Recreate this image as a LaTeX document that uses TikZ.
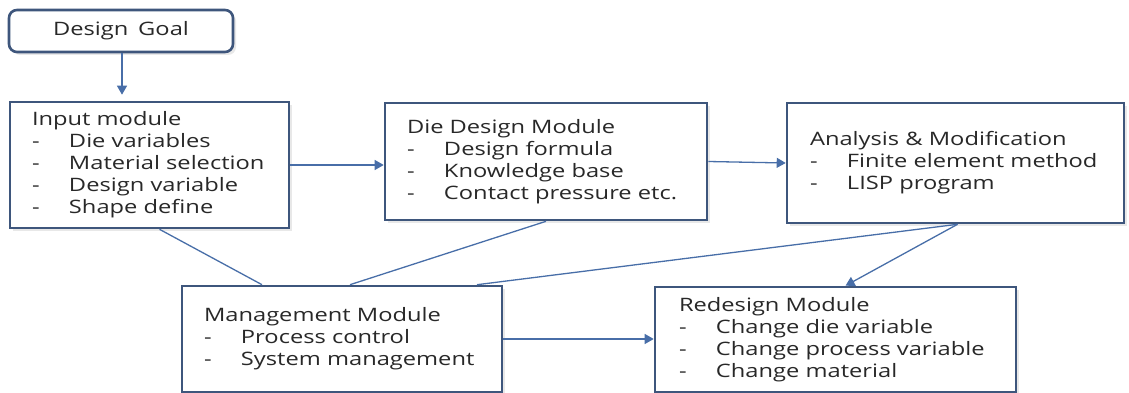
\documentclass[tikz,border=0pt]{standalone}
\usepackage{fontspec}
\setmainfont{Open Sans}[FakeStretch=1.28,WordSpace=1.6]
\usetikzlibrary{arrows.meta,shadows,calc}
\definecolor{boxline}{RGB}{62,86,124}
\definecolor{linkblue}{RGB}{72,110,168}
\definecolor{ink}{RGB}{40,40,40}
\newcommand{\itm}[1]{\makebox[37pt][l]{-}#1}

\begin{document}
\begin{tikzpicture}[x=1pt,y=-1pt,
  module/.style={draw=boxline, line width=2.6pt, fill=white, align=left,
    inner xsep=22pt, inner ysep=0pt, text=ink,
    font=\fontsize{18.5}{22}\selectfont,
    drop shadow={opacity=0.18, shadow xshift=3pt, shadow yshift=-3pt}},
  goalbox/.style={module, rounded corners=8pt, align=center},
  link/.style={draw=linkblue, line width=1.3pt},
  flow/.style={link, -{Triangle[width=10pt,length=9pt]}}]

\useasboundingbox (0,0) rectangle (1129,393);

\node[goalbox, minimum width=224pt, minimum height=42pt] (goal) at (121,31) {Design Goal};

\node[module, minimum width=279pt, minimum height=126pt, text width=235pt] (input) at (149.5,165)
  {Input module\\ \itm{Die variables}\\ \itm{Material selection}\\ \itm{Design variable}\\ \itm{Shape define}};

\node[module, minimum width=322pt, minimum height=117pt, text width=278pt] (die) at (546,161.5)
  {Die Design Module\\ \itm{Design formula}\\ \itm{Knowledge base}\\ \itm{Contact pressure etc.}};

\node[module, minimum width=337pt, minimum height=120pt, text width=291pt] (anal) at (955.5,163)
  {Analysis \& Modification\\ \itm{Finite element method}\\ \itm{LISP program}};

\node[module, minimum width=318pt, minimum height=106pt, text width=276pt] (mgmt) at (342,339)
  {Management Module\\ \itm{Process control}\\ \itm{System management}};

\node[module, minimum width=361pt, minimum height=105pt, text width=313pt] (redes) at (835.5,339.5)
  {Redesign Module\\ \itm{Change die variable}\\ \itm{Change process variable}\\ \itm{Change material}};

% flow between modules
\draw[flow, shorten >=6pt] ([xshift=1pt]goal.south) -- ([xshift=1pt]goal.south |- input.north);
\draw[flow] (input.east) -- (input.east -| die.west);
\draw[flow] (die.east) -- (anal.west);
\draw[flow] (mgmt.east) -- (mgmt.east -| redes.west);
\draw[flow] ([xshift=2pt]anal.south) -- ([xshift=10pt]redes.north);

% links into the management module
\draw[link] ([xshift=10pt]input.south) -- ([xshift=-80pt]mgmt.north);
\draw[link] (die.south) -- ([xshift=8pt]mgmt.north);
\draw[link] ([xshift=2pt]anal.south) -- ([xshift=135pt]mgmt.north);
\end{tikzpicture}
\end{document}
